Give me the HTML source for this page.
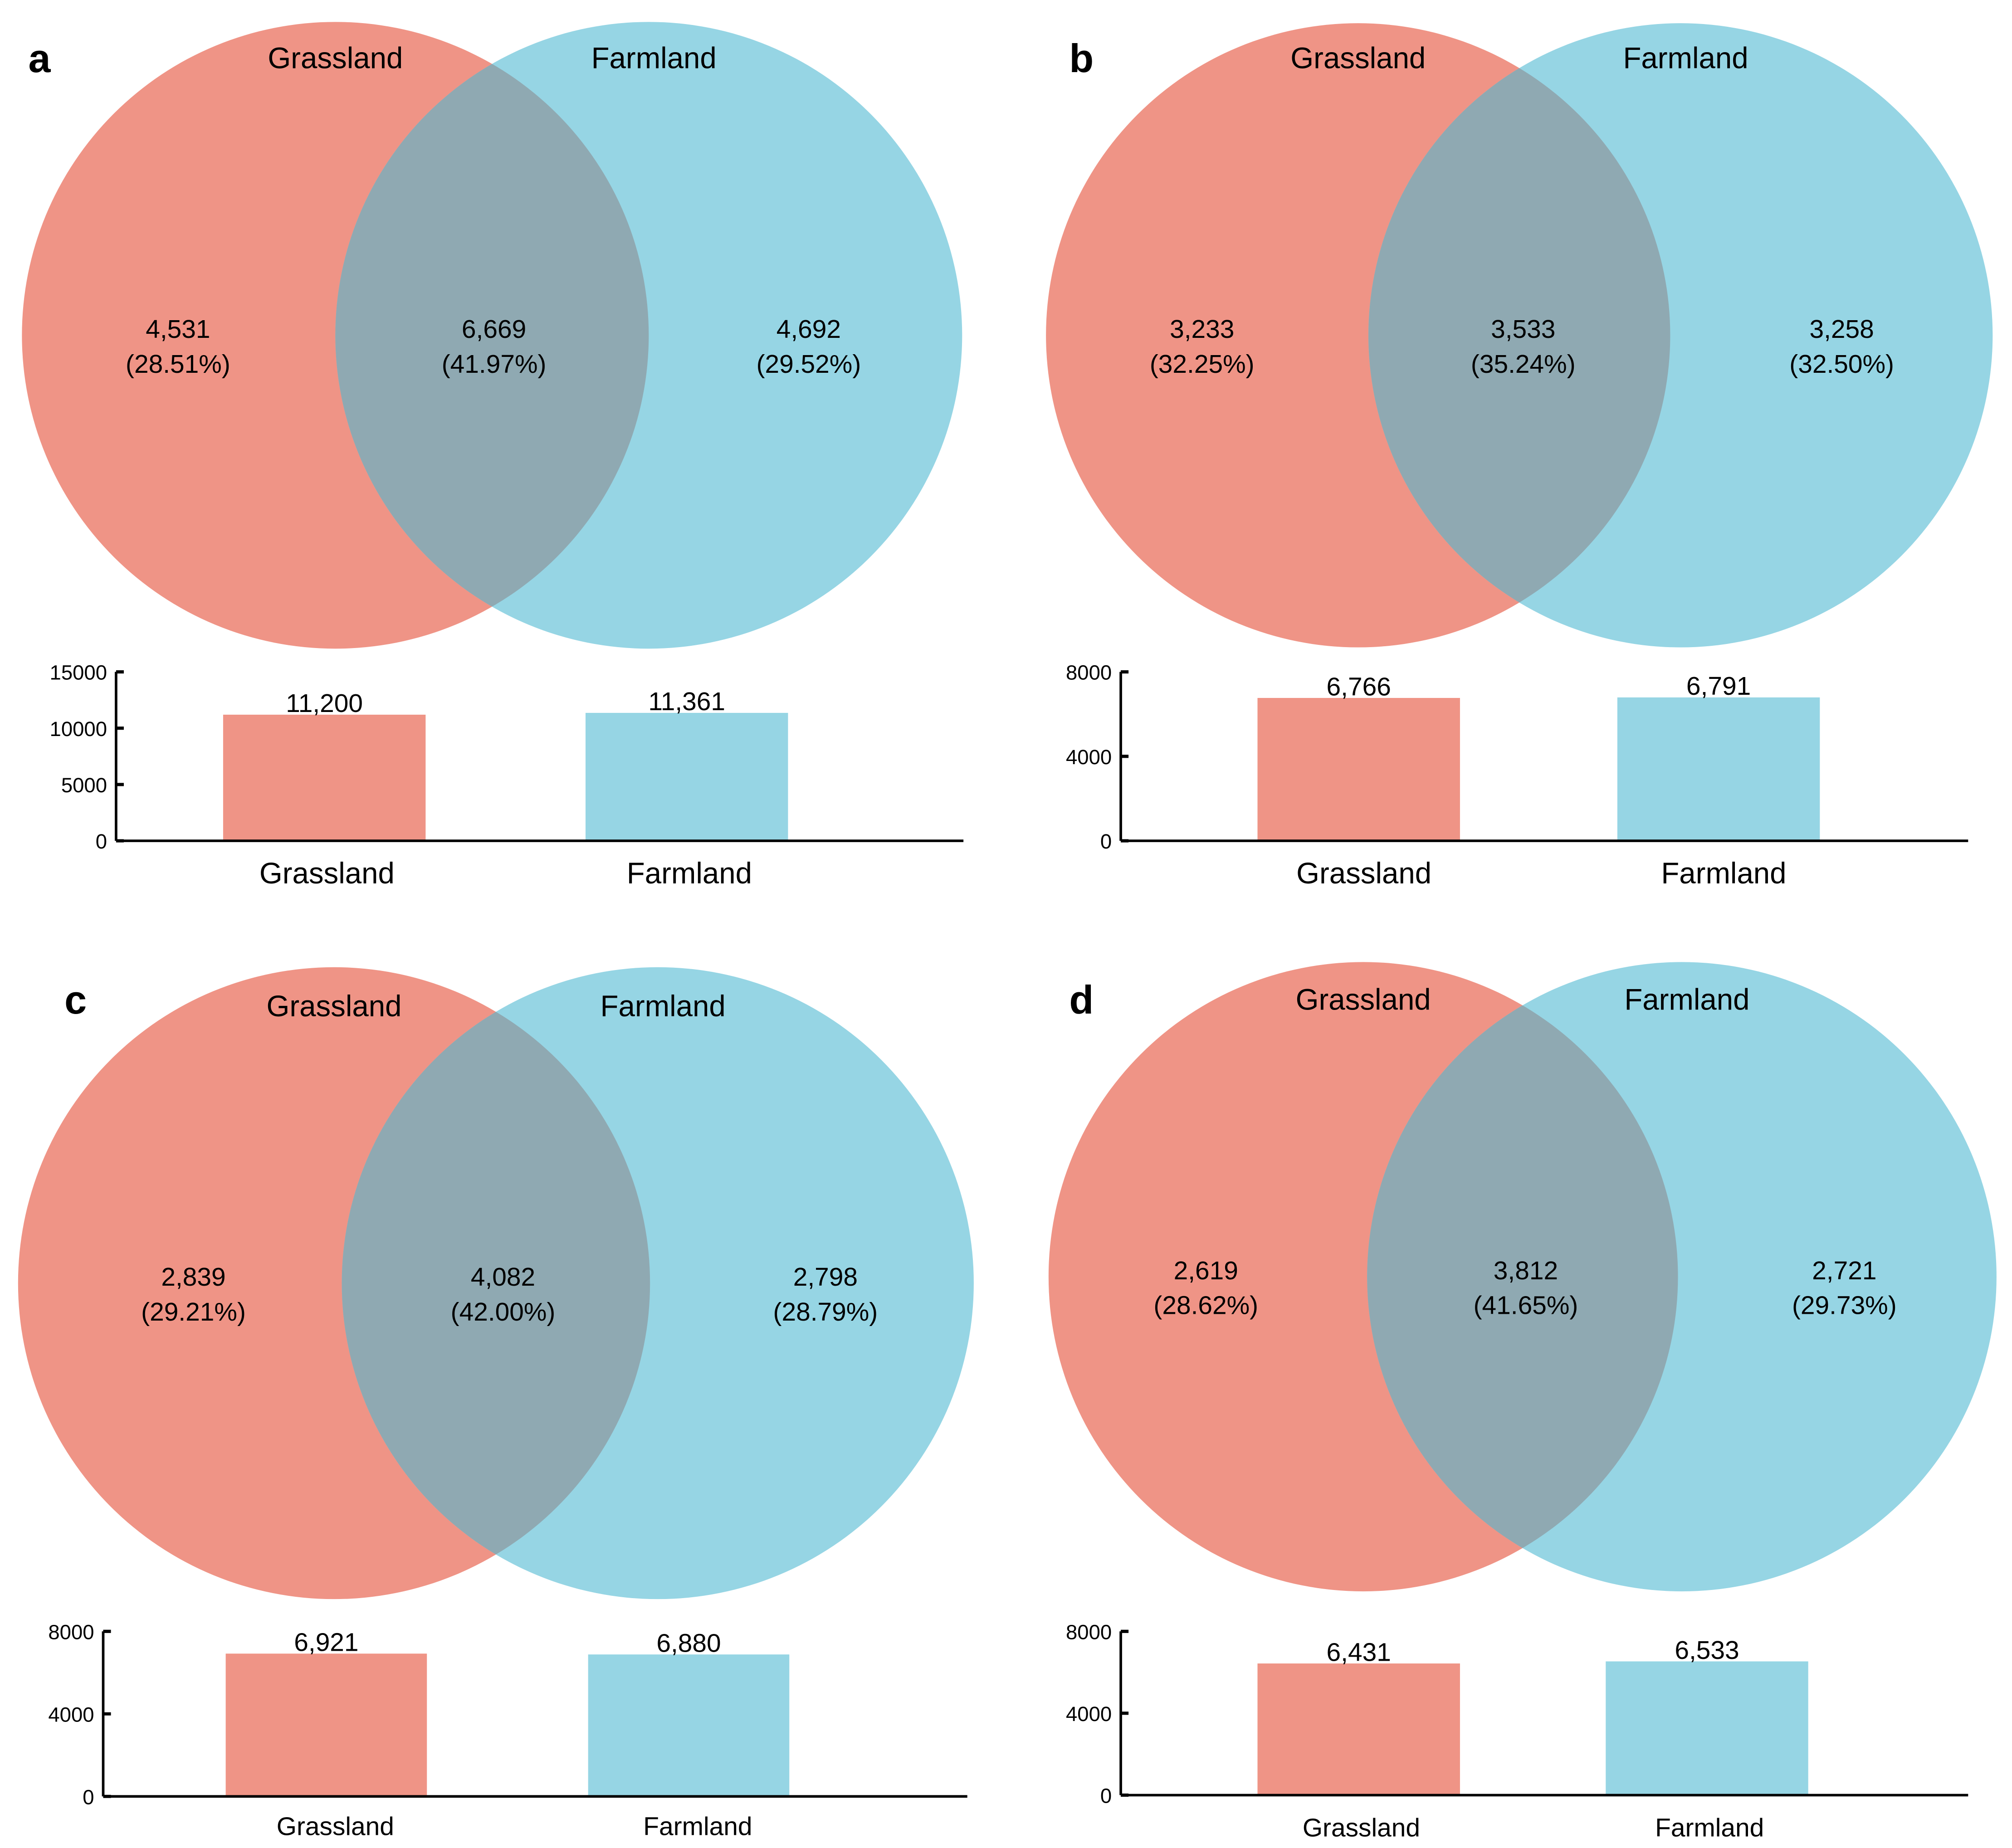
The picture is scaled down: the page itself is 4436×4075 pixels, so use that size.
<!DOCTYPE html>
<html><head><meta charset="utf-8"><style>
html,body{margin:0;padding:0;background:#fff;}
svg{display:block;font-family:"Liberation Sans",Arial,sans-serif;}
</style></head><body>
<svg id="fig" width="4436" height="4075" viewBox="0 0 1560 1433" preserveAspectRatio="none" xmlns="http://www.w3.org/2000/svg"></svg>
<script>
const panelLetters = ["a","b","c","d"];
const setNames = ["Grassland","Farmland"];
const onlyGrass = ["4,531","3,233","2,839","2,619"];
const shared = ["6,669","3,533","4,082","3,812"];
const onlyFarm = ["4,692","3,258","2,798","2,721"];
const pctGrass = ["(28.51%)","(32.25%)","(29.21%)","(28.62%)"];
const pctShared = ["(41.97%)","(35.24%)","(42.00%)","(41.65%)"];
const pctFarm = ["(29.52%)","(32.50%)","(28.79%)","(29.73%)"];
const grassTotals = [11200,6766,6921,6431];
const farmTotals = [11361,6791,6880,6533];
const yMaxes = [15000,8000,8000,8000];
const tickSets = [[0,5000,10000,15000],[0,4000,8000],[0,4000,8000],[0,4000,8000]];

const layout = [
 {cx1:260,cx2:503,cy:260,r:243,lx:36,ly:45,ay:45,axX:90,axTop:521,axBot:652,axEnd:747,b1:173,b2:454,bw:157,catY:682,catF:22,catOff:2,numX:[138,383,627]},
 {cx1:1053,cx2:1303,cy:260,r:242,lx:843,ly:45,ay:45,axX:869,axTop:521,axBot:652,axEnd:1526,b1:975,b2:1254,bw:157,catY:682,catF:22,catOff:4,numX:[932,1181,1428]},
 {cx1:259,cx2:510,cy:995,r:245,lx:64,ly:775,ay:780,axX:80,axTop:1265,axBot:1393,axEnd:750,b1:175,b2:456,bw:156,catY:1423,catF:19,catOff:7,numX:[150,390,640]},
 {cx1:1057,cx2:1304,cy:990,r:244,lx:843,ly:775,ay:775,axX:869,axTop:1265,axBot:1392,axEnd:1526,b1:975,b2:1245,bw:157,catY:1424,catF:19,catOff:2,numX:[935,1183,1430]}
];
const NS="http://www.w3.org/2000/svg";
const svg=document.getElementById('fig');
function mk(tag,attrs,parent){const e=document.createElementNS(NS,tag);for(const k in attrs)e.setAttribute(k,attrs[k]);(parent||svg).appendChild(e);return e;}
function txt(s,attrs,parent){const e=mk('text',attrs,parent);e.textContent=s;return e;}

layout.forEach((L,i)=>{
  const g=mk('g',{});
  
  
  const c1=mk('circle',{cx:L.cx1,cy:L.cy,r:L.r,fill:'#EF9486'},g);
  
  
  const c2=mk('circle',{cx:L.cx2,cy:L.cy,r:L.r,fill:'#96D5E4'},g);
  
  
  const cp=mk('clipPath',{id:'clip'+i},g);
  mk('circle',{cx:L.cx2,cy:L.cy,r:L.r},cp);
  const ov=mk('circle',{cx:L.cx1,cy:L.cy,r:L.r,fill:'#8FA9B2','clip-path':'url(#clip'+i+')'},g);
  
  
  const pl=txt(panelLetters[i],{x:L.lx-14,y:L.ly+11,'font-size':31,'font-weight':'bold'},g);
  
  
  const t1=txt(setNames[0],{x:L.cx1,y:L.ay+8,'font-size':23,'text-anchor':'middle'},g);
  
  
  const t2=txt(setNames[1],{x:L.cx2+4,y:L.ay+8,'font-size':23,'text-anchor':'middle'},g);
  
  
  const nums=[[onlyGrass[i],pctGrass[i]],[shared[i],pctShared[i]],[onlyFarm[i],pctFarm[i]]];
  nums.forEach((n,j)=>{
    const a=txt(n[0],{x:L.numX[j],y:L.cy+2,'font-size':20,'text-anchor':'middle'},g);
    
    
    const b=txt(n[1],{x:L.numX[j],y:L.cy+29,'font-size':20,'text-anchor':'middle'},g);
    
    
  });
  const yS=v=>L.axBot-(v/yMaxes[i])*(L.axBot-L.axTop);
  const vals=[grassTotals[i],farmTotals[i]];
  const xs=[L.b1,L.b2];
  const cols=['#EF9486','#96D5E4'];
  vals.forEach((v,j)=>{
    const r=mk('rect',{x:xs[j],y:yS(v),width:L.bw,height:L.axBot-yS(v),fill:cols[j]},g);
    
    
    const lb=txt(v.toLocaleString('en-US'),{x:xs[j]+L.bw/2,y:yS(v)-2,'font-size':20,'text-anchor':'middle'},g);
    
    
    const cl=txt(setNames[j],{x:xs[j]+L.bw/2+L.catOff,y:L.catY+(L.catF>20?3:0),'font-size':L.catF+1,'text-anchor':'middle'},g);
    
    
  });
  const ya=mk('line',{x1:L.axX,y1:L.axTop,x2:L.axX,y2:L.axBot,stroke:'#000','stroke-width':2},g);
  
  
  const xa=mk('line',{x1:L.axX,y1:L.axBot,x2:L.axEnd,y2:L.axBot,stroke:'#000','stroke-width':2},g);
  
  
  tickSets[i].forEach(t=>{
    const tk=mk('line',{x1:L.axX,y1:yS(t),x2:L.axX+6,y2:yS(t),stroke:'#000','stroke-width':2.5},g);
    
    
    const tl=txt(String(t),{x:L.axX-7,y:yS(t)+6,'font-size':16,'text-anchor':'end'},g);
    
    
  });
});
</script>
</body></html>
